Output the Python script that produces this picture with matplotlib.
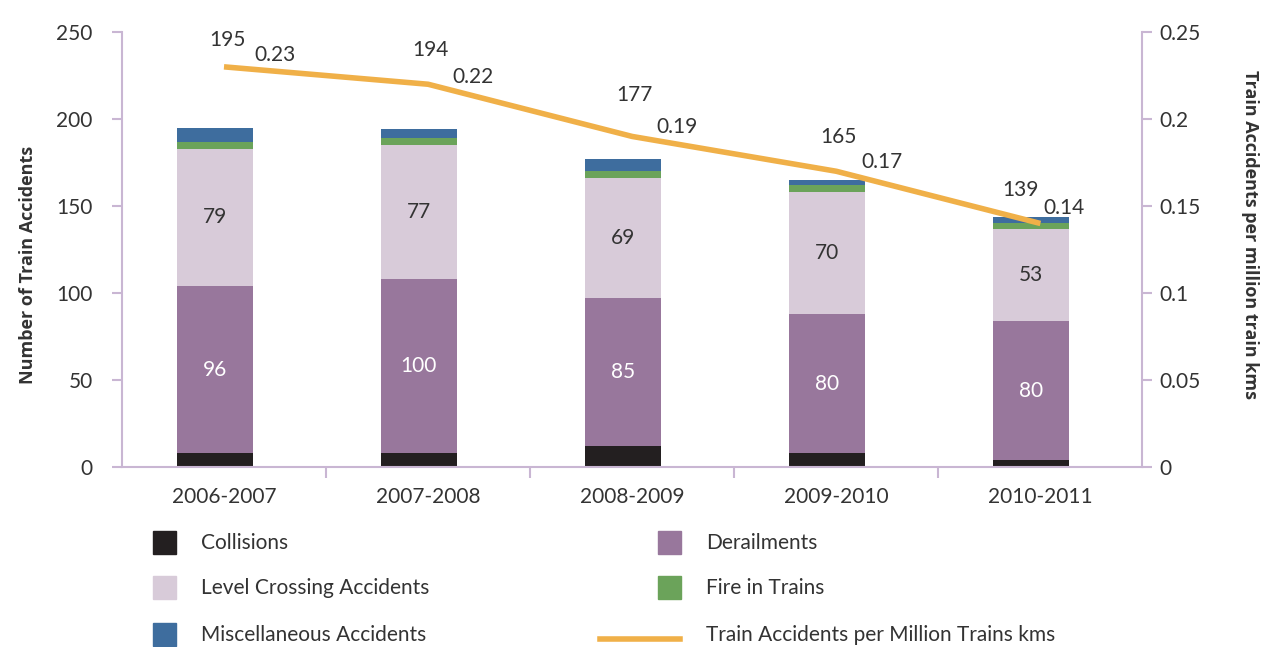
import numpy as np
import matplotlib
matplotlib.use("Agg")
import matplotlib.pyplot as plt
from matplotlib.patches import Rectangle
from matplotlib.lines import Line2D

plt.rcParams['font.family'] = ['Lato', 'DejaVu Sans']

years = ['2006-2007', '2007-2008', '2008-2009', '2009-2010', '2010-2011']
collisions = [8, 8, 12, 8, 4]
derailments = [96, 100, 85, 80, 80]
level_crossing = [79, 77, 69, 70, 53]
fire = [4, 4, 4, 4, 3]
misc = [8, 5, 7, 3, 4]
totals = [195, 194, 177, 165, 139]
rate = [0.23, 0.22, 0.19, 0.17, 0.14]

series_names = ['Collisions', 'Derailments', 'Level Crossing Accidents',
                'Fire in Trains', 'Miscellaneous Accidents']
series_colors = ['#231F20', '#98779C', '#D8CBD9', '#6BA35A', '#3E6D9E']
line_name = 'Train Accidents per Million Trains kms'
line_color = '#F0B048'
text_color = '#333333'
spine_color = '#C9B6D3'

# label offsets in pixels (dx, dy) relative to the line points
total_off = [(3, 27), (2, 34), (2, 41), (2, 34), (-20, 33)]
rate_off = [(51, 12), (45, 7), (45, 9), (46, 9), (24, 15)]

fig = plt.figure(figsize=(12.61, 6.47), dpi=100)
ax = fig.add_axes([0.0967, 0.278, 0.8093, 0.6725])
ax2 = ax.twinx()

x = np.arange(len(years))
xb = x - 0.045
width = 0.37
bottom = np.zeros(len(years))
for vals, col in zip([collisions, derailments, level_crossing, fire, misc], series_colors):
    ax.bar(xb, vals, width, bottom=bottom, color=col, zorder=2)
    bottom += np.array(vals)

# segment labels
base = np.array(collisions)
for i in range(len(years)):
    ax.text(xb[i], base[i] + derailments[i] / 2, str(derailments[i]), ha='center', va='center',
            color='white', fontsize=15, zorder=3)
    ax.text(xb[i], base[i] + derailments[i] + level_crossing[i] / 2, str(level_crossing[i]),
            ha='center', va='center', color=text_color, fontsize=15, zorder=3)

ax2.plot(x, rate, color=line_color, lw=4, zorder=4, solid_capstyle='butt')
pt = 0.72
for i in range(len(years)):
    ax2.annotate(str(totals[i]), (x[i], rate[i]),
                 xytext=(total_off[i][0] * pt, total_off[i][1] * pt), textcoords='offset points',
                 ha='center', va='center', fontsize=15, color=text_color)
    ax2.annotate(f'{rate[i]:g}', (x[i], rate[i]),
                 xytext=(rate_off[i][0] * pt, rate_off[i][1] * pt), textcoords='offset points',
                 ha='center', va='center', fontsize=15, color=text_color)

ax.set_xlim(-0.5, len(years) - 0.5)
ax.set_ylim(0, 250)
ax2.set_ylim(0, 0.25)
ax.set_yticks(np.arange(0, 251, 50))
ax2.set_yticks([0, 0.05, 0.1, 0.15, 0.2, 0.25])
ax2.set_yticklabels(['0', '0.05', '0.1', '0.15', '0.2', '0.25'])
ax.set_xticks(x)
ax.set_xticklabels(years)
ax.set_xticks(np.arange(0.5, len(years) - 0.5, 1), minor=True)

for a in (ax, ax2):
    for s in a.spines.values():
        s.set_visible(False)
    a.set_facecolor('none')
ax.spines['left'].set_visible(True)
ax.spines['bottom'].set_visible(True)
ax2.spines['right'].set_visible(True)
for s in (ax.spines['left'], ax.spines['bottom'], ax2.spines['right']):
    s.set_color(spine_color)
    s.set_linewidth(1.5)

ax.tick_params(axis='y', colors=spine_color, labelcolor=text_color, labelsize=15,
               length=7, width=1.5, pad=14)
ax2.tick_params(axis='y', colors=spine_color, labelcolor=text_color, labelsize=15,
                length=7, width=1.5, pad=5)
ax.tick_params(axis='x', which='major', length=0, labelsize=15, labelcolor=text_color, pad=14)
ax.tick_params(axis='x', which='minor', length=8, width=1.5, color=spine_color)

ax.set_ylabel('Number of Train Accidents', fontsize=13, fontweight='bold', color=text_color,
              family=['Open Sans', 'DejaVu Sans'])
ax.yaxis.set_label_coords(-0.083, 0.465)
ax2.set_ylabel('Train Accidents per million train kms', fontsize=13, fontweight='bold',
               color=text_color, rotation=-90, va='bottom', family=['Open Sans', 'DejaVu Sans'])
ax2.yaxis.set_label_coords(1.097, 0.535)

# legend drawn in figure pixels
W, H = 1261, 647
rows = [543, 588, 635]
left_items = [0, 2, 4]
right_items = [1, 3]
for r, idx in zip(rows, left_items):
    fig.add_artist(Rectangle((153 / W, 1 - (r + 11) / H), 23 / W, 23 / H,
                             color=series_colors[idx], transform=fig.transFigure))
    fig.text(201 / W, 1 - r / H, series_names[idx], va='center', ha='left',
             fontsize=15, color=text_color)
for r, idx in zip(rows[:2], right_items):
    fig.add_artist(Rectangle((658 / W, 1 - (r + 11) / H), 23 / W, 23 / H,
                             color=series_colors[idx], transform=fig.transFigure))
    fig.text(706 / W, 1 - r / H, series_names[idx], va='center', ha='left',
             fontsize=15, color=text_color)
fig.add_artist(Line2D([600 / W, 680 / W], [1 - 639 / H, 1 - 639 / H], color=line_color,
                      lw=4, transform=fig.transFigure))
fig.text(706 / W, 1 - rows[2] / H, line_name, va='center', ha='left', fontsize=15,
         color=text_color)

fig.savefig('out.png', dpi=100)
